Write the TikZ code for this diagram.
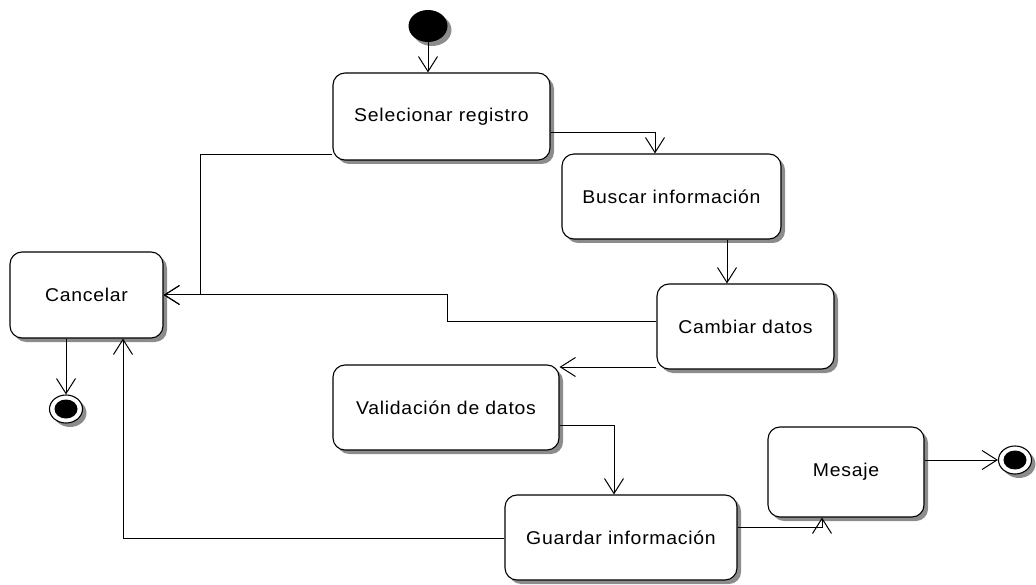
\documentclass[tikz,border=0pt]{standalone}
\usepackage{fontspec}
\setmainfont[FakeStretch=1.05,LetterSpace=4]{Liberation Sans}
\usetikzlibrary{arrows.meta,shadows,shapes.geometric}
\begin{document}
\begin{tikzpicture}[x=1pt,y=-1pt,
  shad/.style={drop shadow={shadow xshift=4pt,shadow yshift=-4pt,fill=black!45,opacity=1}},
  act/.style={draw,line width=1.1pt,rounded corners=12pt,fill=white,shad,inner sep=0pt,
    font=\fontsize{18.5}{22}\selectfont},
  flow/.style={line width=1pt,-{Straight Barb[length=15pt,width=19pt]}},
  startdot/.style={ellipse,fill=black,minimum width=39pt,minimum height=32pt,inner sep=0pt,shad},
  endring/.style={ellipse,draw,line width=1.1pt,fill=white,minimum width=33pt,minimum height=28pt,inner sep=0pt,shad},
  enddot/.style={ellipse,fill=black,minimum width=23pt,minimum height=19pt,inner sep=0pt}
]
\useasboundingbox (0,0) rectangle (1036,585);

\node[act,minimum width=217pt,minimum height=87pt] (sel) at (441.5,116.5) {Selecionar registro};
\node[act,minimum width=219pt,minimum height=85pt] (bus) at (671.5,196.5) {Buscar información};
\node[act,minimum width=177pt,minimum height=85pt] (cam) at (745.5,326.5) {Cambiar datos};
\node[act,minimum width=153pt,minimum height=86pt] (can) at (86.5,295) {Cancelar};
\node[act,minimum width=226pt,minimum height=85pt] (val) at (446,407.5) {Validación de datos};
\node[act,minimum width=232pt,minimum height=85pt] (gua) at (621,537.5) {Guardar información};
\node[act,minimum width=156pt,minimum height=90pt] (mes) at (846,472) {Mesaje};

\node[startdot] (start) at (428,26) {};
\node[endring] (end1) at (66,409) {};
\node[enddot] (end1dot) at (end1) {};
\node[endring] (end2) at (1015,460) {};
\node[enddot] (end2dot) at (end2) {};

\draw[flow] (start.south) -- (start.south |- sel.north);
\draw[flow] (sel.east |- 0,133) -| (655,0 |- bus.north);
\draw[flow] (sel.west |- 0,155) -| (200,0 |- can.east) -- (can.east);
\draw[flow] (bus.south -| 727,0) -- (727,0 |- cam.north);
\draw[flow] (cam.west |- 0,322) -| (447,0 |- can.east) -- (can.east);
\draw[flow] (cam.west |- 0,367) -- (val.east |- 0,367);
\draw[flow] (val.east |- 0,425) -| (614,0 |- gua.north);
\draw[flow] (gua.west |- 0,538) -| (123,0 |- can.south);
\draw[flow] (end1.north |- can.south) -- (end1.north);
\draw[flow] (gua.east |- 0,527) -| (822,0 |- mes.south);
\draw[flow] (mes.east |- end2.west) -- (end2.west);
\end{tikzpicture}
\end{document}
